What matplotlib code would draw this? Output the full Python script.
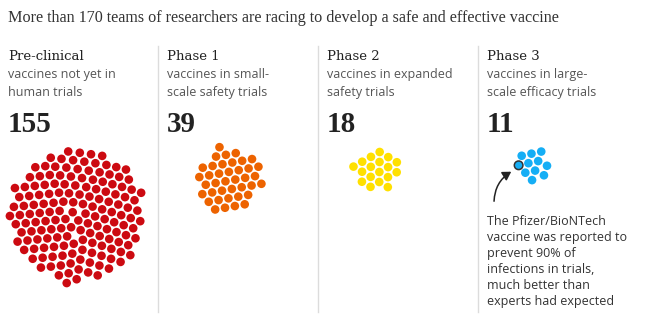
import numpy as np
import matplotlib
matplotlib.use("Agg")
import matplotlib.pyplot as plt
from matplotlib.patches import Circle, FancyArrowPatch

title = "More than 170 teams of researchers are racing to develop a safe and effective vaccine"
stages = ["Pre-clinical", "Phase 1", "Phase 2", "Phase 3"]
descriptions = ["vaccines not yet in\nhuman trials",
                "vaccines in small-\nscale safety trials",
                "vaccines in expanded\nsafety trials",
                "vaccines in large-\nscale efficacy trials"]
counts = [155, 39, 18, 11]
colors = ["#cc0a11", "#ed6300", "#ffe000", "#15aef5"]
note = ("The Pfizer/BioNTech\nvaccine was reported to\nprevent 90% of\n"
        "infections in trials,\nmuch better than\nexperts had expected")

W, H = 646, 321
col_x = [8, 167, 327, 487]
spacing = 10.0
dot_r = 4.3


def separate(p, step, rounds):
    for _ in range(rounds):
        diff = p[:, None, :] - p[None, :, :]
        dist = np.hypot(diff[..., 0], diff[..., 1])
        np.fill_diagonal(dist, np.inf)
        overlap = np.clip(step - dist, 0, None)
        p = p + 0.5 * (diff / dist[..., None] * overlap[..., None] / 2).sum(axis=1)
    return p


def packed_cluster(n, step):
    # sunflower start, then squeeze to the centre while keeping dots apart
    i = np.arange(n) + 0.5
    ang = i * np.pi * (3 - np.sqrt(5))
    rad = step * 0.6 * np.sqrt(i)
    p = np.column_stack([rad * np.cos(ang), rad * np.sin(ang)])
    steps = 300
    for it in range(steps):
        p = p * (1 - 0.03 * (1 - it / steps))
        p = separate(p, step, 4)
    p = separate(p, step, 200)
    return p - p.mean(axis=0)


fig = plt.figure(figsize=(W / 100, H / 100), dpi=100)
ax = fig.add_axes([0, 0, 1, 1])
ax.set_xlim(0, W)
ax.set_ylim(H, 0)
ax.axis("off")

ax.text(8, 18, title, fontsize=11.6, family="Liberation Serif", color="#333333", va="center")

for k in range(4):
    x0 = col_x[k]
    if k > 0:
        ax.plot([x0 - 9, x0 - 9], [46, 312], color="#dcdcdc", lw=1)
    ax.text(x0, 57, stages[k], fontsize=9.5, family="DejaVu Serif", color="#222222", va="center")
    ax.text(x0, 68, descriptions[k], fontsize=9, family="Open Sans", color="#555555",
            va="top", linespacing=1.5)
    ax.text(x0, 125, str(counts[k]), fontsize=21, family="Liberation Serif", weight="bold",
            color="#222222", va="center")

centers = [(77, 215), (229, 180), (377, 170), (533, 165)]
clusters = [packed_cluster(c, spacing) for c in counts]
for k in range(4):
    cx, cy = centers[k]
    for px, py in clusters[k]:
        ax.add_patch(Circle((cx + px, cy + py), dot_r, color=colors[k], lw=0))

# highlighted Pfizer dot: leftmost dot of phase 3
pts3 = clusters[3]
hx, hy = pts3[np.argmin(pts3[:, 0])]
hx, hy = centers[3][0] + hx, centers[3][1] + hy
ax.add_patch(Circle((hx, hy), dot_r, facecolor=colors[3], edgecolor="#333333", lw=1.1))

ax.add_patch(FancyArrowPatch((494, 204), (hx - 5, hy + 5), connectionstyle="arc3,rad=-0.3",
                             arrowstyle="-|>,head_length=5,head_width=3", color="#222222", lw=1.1))

ax.text(487, 215, note, fontsize=9, family="Open Sans", color="#333333", va="top", linespacing=1.3)

fig.savefig("out.png", dpi=100)
